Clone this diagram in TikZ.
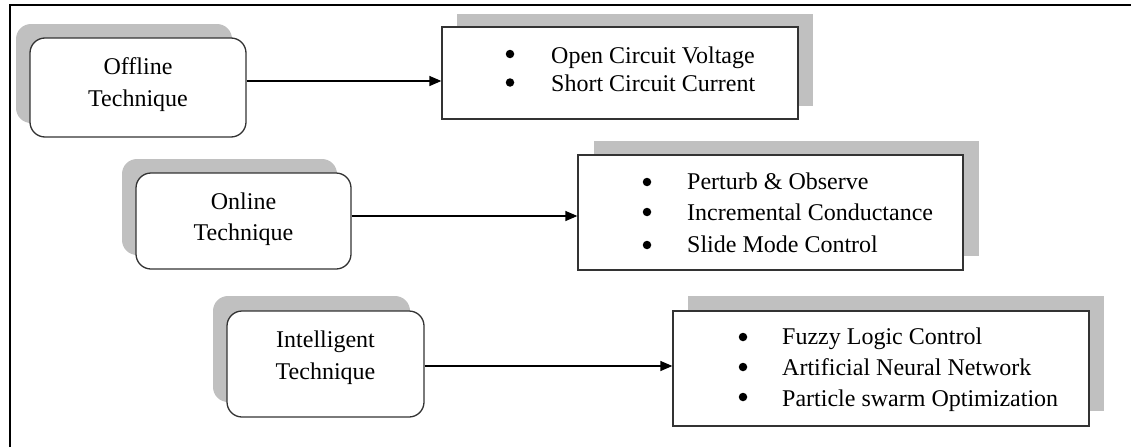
\documentclass[tikz,border=0pt]{standalone}
\usepackage{fontspec}
\setmainfont{Liberation Serif}
\usetikzlibrary{arrows.meta}
\definecolor{shade}{HTML}{C0C0C0}
\definecolor{edge}{HTML}{333333}
\tikzset{
  tech/.style={draw=edge, line width=1.3pt, rounded corners=15pt, fill=white, inner sep=0pt},
  techshadow/.style={fill=shade, draw=none, rounded corners=15pt, inner sep=0pt},
  list/.style={draw=edge, line width=1.3pt, fill=white, inner sep=0pt},
  listshadow/.style={fill=shade, draw=none, inner sep=0pt},
  txt/.style={font=\fontsize{24}{28}\selectfont, inner sep=0pt, anchor=base},
  item/.style={font=\fontsize{24}{28}\selectfont, inner sep=0pt, anchor=base west},
  dot/.style={circle, fill=black, draw=none, inner sep=0pt, minimum size=8.5pt},
  arr/.style={line width=1.3pt, draw=black, -{Triangle[length=12pt,width=10pt]}},
  frame/.style={line width=2pt, draw=black}
}
\begin{document}
\begin{tikzpicture}[x=1pt,y=-1pt]
\useasboundingbox (0,0) rectangle (1131,447);
\draw[frame] (9.5,447) -- (9.5,4.5) -- (1131,4.5);

% shadows
\node[techshadow, minimum width=216pt, minimum height=99pt] (s1) at (124,73.5) {};
\node[techshadow, minimum width=215pt, minimum height=96pt] (s2) at (229.5,207) {};
\node[techshadow, minimum width=197pt, minimum height=106pt] (s3) at (311.5,349) {};
\node[listshadow, minimum width=356pt, minimum height=92pt] (q1) at (635,60) {};
\node[listshadow, minimum width=385pt, minimum height=115pt] (q2) at (786.5,198.5) {};
\node[listshadow, minimum width=416pt, minimum height=115pt] (q3) at (896,353.5) {};

% technique boxes
\node[tech, minimum width=216pt, minimum height=99pt] (b1) at (138,87.5) {};
\node[tech, minimum width=215pt, minimum height=96pt] (b2) at (243.5,221) {};
\node[tech, minimum width=197pt, minimum height=106pt] (b3) at (325.5,364) {};

% list boxes
\node[list, minimum width=356pt, minimum height=92pt] (r1) at (620,73) {};
\node[list, minimum width=385pt, minimum height=115pt] (r2) at (770.5,212.5) {};
\node[list, minimum width=416pt, minimum height=115pt] (r3) at (881,368.5) {};

% technique labels
\node[txt] (t1a) at (138,74) {Offline};
\node[txt] (t1b) at (138,106) {Technique};
\node[txt] (t2a) at (243.5,209) {Online};
\node[txt] (t2b) at (243.5,240) {Technique};
\node[txt] (t3a) at (325.5,347) {Intelligent};
\node[txt] (t3b) at (325.5,379) {Technique};

% lists
\node[dot] (p1) at (510,54) {};
\node[item] (i1) at (551,63) {Open Circuit Voltage};
\node[dot] (p2) at (510,82.5) {};
\node[item] (i2) at (551,91) {Short Circuit Current};

\node[dot] (p3) at (647,182) {};
\node[item] (i3) at (687,189) {Perturb \& Observe};
\node[dot] (p4) at (647,212) {};
\node[item] (i4) at (687,220) {Incremental Conductance};
\node[dot] (p5) at (647,245) {};
\node[item] (i5) at (687,252) {Slide Mode Control};

\node[dot] (p6) at (743,337) {};
\node[item] (i6) at (782,344) {Fuzzy Logic Control};
\node[dot] (p7) at (743,367) {};
\node[item] (i7) at (782,375) {Artificial Neural Network};
\node[dot] (p8) at (743,397) {};
\node[item] (i8) at (782,406) {Particle swarm Optimization};

% connectors
\draw[arr] ([yshift=6.5pt]b1.east) -- ([yshift=6.5pt]b1.east -| r1.west);
\draw[arr] ([yshift=5pt]b2.east) -- ([yshift=5pt]b2.east -| r2.west);
\draw[arr] ([yshift=-2pt]b3.east) -- ([yshift=-2pt]b3.east -| r3.west);
\end{tikzpicture}
\end{document}
